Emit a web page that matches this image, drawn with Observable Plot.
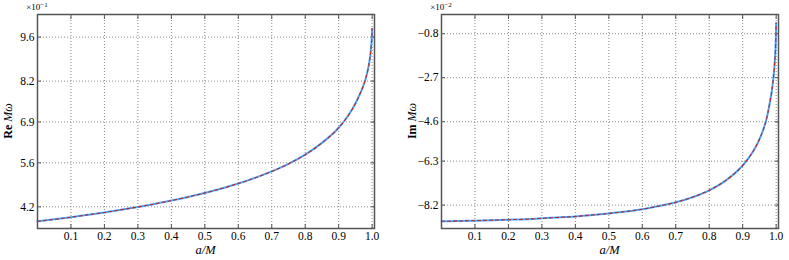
<!DOCTYPE html>
<html>
<head>
<meta charset="utf-8">
<script src="https://cdn.jsdelivr.net/npm/d3@7"></script>
<script src="https://cdn.jsdelivr.net/npm/@observablehq/plot@0.6"></script>
<style>
  html, body { margin: 0; padding: 0; background: #fff; }
  #wrap { display: flex; width: 789px; height: 260px; }
  svg, svg text { font-family: "Liberation Serif", "DejaVu Serif", serif !important; }
</style>
</head>
<body>
<div id="wrap"></div>
<script>
const aValues = [0, 0.05, 0.1, 0.15, 0.2, 0.25, 0.3, 0.35, 0.4, 0.45, 0.5, 0.55, 0.6, 0.65, 0.7, 0.75, 0.8, 0.85, 0.9, 0.92, 0.94, 0.95, 0.96, 0.97, 0.98, 0.99, 0.995, 0.998, 0.999, 0.9995, 0.9999];
const reValues = [0.3737, 0.3801, 0.3870, 0.3944, 0.4021, 0.4106, 0.4195, 0.4293, 0.4398, 0.4515, 0.4641, 0.4782, 0.4940, 0.5121, 0.5326, 0.5566, 0.5860, 0.6235, 0.6716, 0.6979, 0.7297, 0.7487, 0.7707, 0.7956, 0.8254, 0.8710, 0.9070, 0.9420, 0.9590, 0.9710, 0.9870];
const imValues = [-0.0890, -0.0889, -0.0887, -0.0885, -0.0883, -0.0881, -0.0877, -0.0873, -0.0869, -0.0863, -0.0856, -0.0848, -0.0838, -0.0824, -0.0808, -0.0786, -0.0756, -0.0713, -0.0649, -0.0612, -0.0566, -0.0536, -0.0500, -0.0455, -0.0386, -0.0294, -0.0218, -0.0145, -0.0105, -0.0076, -0.0034];
const xTicks = [0.1, 0.2, 0.3, 0.4, 0.5, 0.6, 0.7, 0.8, 0.9, 1.0];
const reTicks = [0.42, 0.56, 0.69, 0.82, 0.96];
const imTicks = [-0.082, -0.063, -0.046, -0.027, -0.008];

const reData = aValues.map((a, i) => ({a, v: reValues[i]}));
const imData = aValues.map((a, i) => ({a, v: imValues[i]}));

const FONT = '"Liberation Serif", "DejaVu Serif", serif';

function panel({data, yDomain, yTicks, yFmt, marginLeft, marginRight, expLabel, yLabelMain}) {
  const common = {stroke: "#555", strokeWidth: 1};
  const p = Plot.plot({
    width: 394, height: 260,
    marginTop: 14, marginBottom: 32, marginLeft, marginRight,
    style: {fontFamily: FONT, fontSize: "11.5px", color: "#000"},
    x: {domain: [0, 1.007]},
    y: {domain: yDomain},
    marks: [
      Plot.gridX(xTicks, {stroke: "#888", strokeOpacity: 1, strokeDasharray: "1,2"}),
      Plot.gridY(yTicks, {stroke: "#888", strokeOpacity: 1, strokeDasharray: "1,2"}),
      Plot.axisX(xTicks, {anchor: "bottom", tickSize: -4, tickPadding: 7, tickFormat: d => d.toFixed(1), label: null, ...common, fill: "#000"}),
      Plot.axisX(xTicks, {anchor: "top", tickSize: -4, tickFormat: () => "", label: null, ...common}),
      Plot.axisY(yTicks, {anchor: "left", tickSize: -4, tickPadding: 7, tickFormat: yFmt, label: null, ...common, fill: "#000"}),
      Plot.axisY(yTicks, {anchor: "right", tickSize: -4, tickFormat: () => "", label: null, ...common}),
      Plot.line(data, {x: "a", y: "v", stroke: "#4da6ff", strokeWidth: 2, curve: "monotone-x"}),
      Plot.line(data, {x: "a", y: "v", stroke: "#b22a2a", strokeWidth: 1.1, strokeDasharray: "3,3", curve: "monotone-x"}),
      Plot.frame({stroke: "#555", strokeWidth: 1.5})
    ]
  });
  const svg = d3.select(p);
  const ex = svg.append("text").attr("x", marginLeft).attr("y", 10).attr("font-size", 9).attr("fill", "#000");
  ex.append("tspan").text("×10");
  ex.append("tspan").attr("dy", -3).attr("font-size", 7).text(expLabel);
  const yl = svg.append("text")
    .attr("transform", `translate(${marginLeft - 25},121) rotate(-90)`)
    .attr("text-anchor", "middle").attr("font-size", 12).attr("fill", "#000");
  yl.append("tspan").attr("font-weight", "bold").text(yLabelMain + " ");
  yl.append("tspan").attr("font-style", "italic").text("Mω");
  svg.append("text")
    .attr("x", marginLeft + (394 - marginLeft - marginRight) / 2)
    .attr("y", 254).attr("text-anchor", "middle").attr("font-size", 12.5)
    .attr("font-style", "italic").attr("fill", "#000").text("a/M");
  return p;
}

const minus = s => s.replace("-", "−");
const left = panel({
  data: reData, yDomain: [0.351, 1.032], yTicks: reTicks,
  yFmt: d => (d * 10).toFixed(1),
  marginLeft: 37, marginRight: 20, expLabel: "−1", yLabelMain: "Re"
});
const right = panel({
  data: imData, yDomain: [-0.0921, 0.0003], yTicks: imTicks,
  yFmt: d => minus((d * 100).toFixed(1)),
  marginLeft: 47, marginRight: 10, expLabel: "−2", yLabelMain: "Im"
});
document.getElementById("wrap").append(left, right);
</script>
</body>
</html>
